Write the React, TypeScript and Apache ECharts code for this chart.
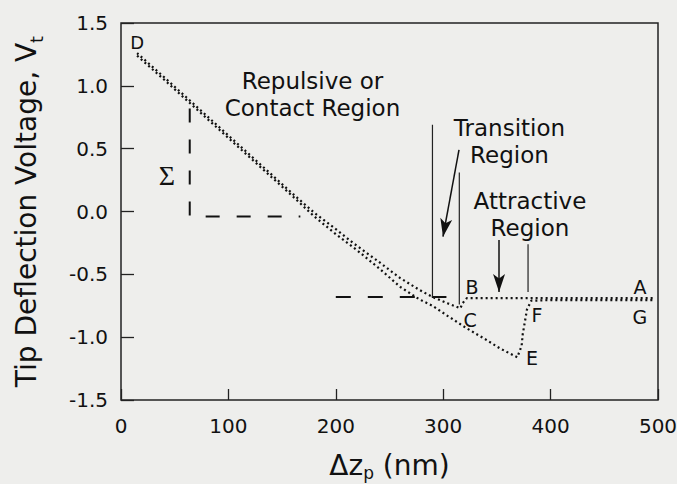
import React, { useEffect, useRef } from 'react';
import * as echarts from 'echarts';

// Approach curve: A -> B (flat), jump to C, then contact line C -> D
const approachX = [495, 480, 460, 440, 420, 400, 380, 360, 340, 322, 318, 316, 304, 290, 278, 260, 240, 216, 200, 180, 160, 140, 120, 100, 80, 60, 40, 15];
const approachV = [-0.69, -0.69, -0.69, -0.69, -0.69, -0.69, -0.69, -0.69, -0.69, -0.69, -0.73, -0.77, -0.73, -0.68, -0.625, -0.53, -0.40, -0.25, -0.14, -0.01, 0.14, 0.295, 0.45, 0.605, 0.76, 0.915, 1.07, 1.26];

// Retract curve: D -> E, jump E -> F, then F -> G (flat)
const retractX = [15, 40, 60, 80, 100, 120, 140, 160, 180, 200, 220, 240, 260, 278, 290, 304, 322, 338, 353, 369, 373, 374, 376, 378, 382, 400, 420, 440, 460, 480, 495];
const retractV = [1.24, 1.05, 0.895, 0.74, 0.585, 0.43, 0.275, 0.12, -0.04, -0.18, -0.31, -0.45, -0.60, -0.70, -0.75, -0.83, -0.93, -1.01, -1.09, -1.16, -1.07, -0.98, -0.88, -0.78, -0.71, -0.705, -0.705, -0.705, -0.705, -0.705, -0.705];

// Sigma slope construction (dashed L)
const sigmaX = [64, 64, 167];
const sigmaV = [0.82, -0.04, -0.04];

// Dashed offset line at the B level
const offsetX = [200, 303];
const offsetV = [-0.68, -0.68];

// Region boundary lines
const boundX = [290, 315, 379];
const boundTop = [0.69, 0.31, -0.26];
const boundBottom = [-0.68, -0.74, -0.64];

// Arrows: [x0, v0, x1, v1]
const arrows = [
  [314.7, 0.49, 299.8, -0.2],
  [352, -0.227, 352, -0.64],
];

// Text annotations
const labelText = ['D', 'Repulsive or\nContact Region', 'Transition\nRegion', 'Attractive\nRegion', 'B', 'C', 'A', 'G', 'F', 'E'];
const labelX = [15, 178.3, 361.7, 380.8, 326.8, 325, 483.2, 483.2, 387.3, 382.7];
const labelV = [1.348, 0.935, 0.557, -0.024, -0.6, -0.863, -0.6, -0.84, -0.823, -1.165];
const labelSize = [18, 23, 23, 23, 19, 19, 19, 19, 19, 19];
const sigmaLabel = { text: 'Σ', x: 42.8, v: 0.29 };

const FONT = 'DejaVu Sans';
const INK = '#111111';

export default function App() {
  const ref = useRef<HTMLDivElement>(null);
  useEffect(() => {
    const chart = echarts.init(ref.current!, null, { renderer: 'svg' });
    const zip = (xs: number[], vs: number[]) => xs.map((x, i) => [x, vs[i]]);
    const dotted = { color: INK, width: 2.2, type: [2, 3] as any, cap: 'butt' as const };

    const option: any = {
      animation: false,
      backgroundColor: '#eeeeec',
      grid: {
        left: 121, right: 19, top: 23, bottom: 84,
        show: true, borderColor: '#222', borderWidth: 1.5,
        containLabel: false, outerBoundsMode: 'none',
      },
      xAxis: {
        type: 'value', min: 0, max: 500, interval: 100,
        axisLine: { show: false, onZero: false },
        axisTick: { inside: true, length: 11, lineStyle: { color: '#222', width: 1.3 } },
        splitLine: { show: false },
        axisLabel: { margin: 16, fontSize: 20, color: INK, fontFamily: FONT },
        name: '{a|Δz}{s|p}{a| (nm)}',
        nameLocation: 'middle',
        nameGap: 50,
        nameTextStyle: {
          rich: {
            a: { fontSize: 28, fontFamily: FONT, color: INK, lineHeight: 31 },
            s: { fontSize: 17, fontFamily: FONT, color: INK, lineHeight: 17, verticalAlign: 'bottom' },
          },
        },
      },
      yAxis: {
        type: 'value', min: -1.5, max: 1.5, interval: 0.5,
        axisLine: { show: false, onZero: false },
        axisTick: { inside: true, length: 13, lineStyle: { color: '#222', width: 1.3 } },
        splitLine: { show: false },
        axisLabel: { margin: 13, fontSize: 20, color: INK, fontFamily: FONT, formatter: (v: number) => v.toFixed(1) },
        name: '{a|Tip Deflection Voltage, V}{s|t}',
        nameLocation: 'middle',
        nameGap: 76,
        nameTextStyle: {
          rich: {
            a: { fontSize: 28, fontFamily: FONT, color: INK, lineHeight: 38 },
            s: { fontSize: 18, fontFamily: FONT, color: INK, lineHeight: 18, verticalAlign: 'bottom' },
          },
        },
      },
      series: [
        { type: 'line', name: 'approach', data: zip(approachX, approachV), symbol: 'none', lineStyle: dotted, silent: true },
        { type: 'line', name: 'retract', data: zip(retractX, retractV), symbol: 'none', lineStyle: dotted, silent: true },
        { type: 'line', data: zip(sigmaX, sigmaV), symbol: 'none', silent: true,
          lineStyle: { color: INK, width: 2, type: [14, 17] } },
        { type: 'line', data: zip(offsetX, offsetV), symbol: 'none', silent: true,
          lineStyle: { color: INK, width: 2, type: [15, 17] } },
        ...boundX.map((x, i) => ({
          type: 'line', data: [[x, boundTop[i]], [x, boundBottom[i]]], symbol: 'none', silent: true,
          lineStyle: { color: '#222', width: 1.2, type: 'solid' },
        })),
        {
          type: 'line', data: [], silent: true,
          markLine: {
            silent: true, animation: false,
            symbol: ['none', 'arrow'], symbolSize: [9, 18],
            label: { show: false },
            lineStyle: { color: INK, width: 1.5, type: 'solid' },
            data: arrows.map((a) => [{ coord: [a[0], a[1]] }, { coord: [a[2], a[3]] }]),
          },
        },
        {
          type: 'scatter', silent: true, symbolSize: 1,
          itemStyle: { color: 'rgba(0,0,0,0)' },
          label: { show: true, position: 'inside', color: INK, opacity: 1, fontFamily: FONT, formatter: (p: any) => p.name },
          data: labelText.map((t, i) => ({
            name: t, value: [labelX[i], labelV[i]],
            label: { fontSize: labelSize[i], lineHeight: labelSize[i] + 4, color: INK },
          })).concat([{
            name: sigmaLabel.text, value: [sigmaLabel.x, sigmaLabel.v],
            label: { fontSize: 28, lineHeight: 30, fontFamily: 'Liberation Serif', color: INK } as any,
          }]),
        },
      ],
    };
    chart.setOption(option);
    return () => chart.dispose();
  }, []);
  return <div ref={ref} style={{ position: 'fixed', left: 0, top: 0, width: 677, height: 484 }} />;
}
